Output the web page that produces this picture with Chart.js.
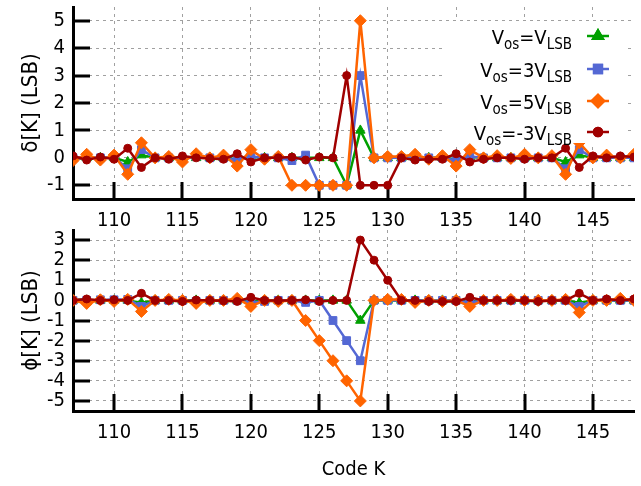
<!DOCTYPE html>
<html><head><meta charset="utf-8">
<script src="https://cdn.jsdelivr.net/npm/chart.js@4"></script>
<style>
html,body{margin:0;padding:0;background:#fff;}
#wrap{position:relative;width:641px;height:486px;overflow:hidden;background:#fff;}
canvas{position:absolute;left:0;}
#c1{top:0;}
#c2{top:222px;}
</style></head><body>
<div id="wrap"><canvas id="c1" width="641" height="232" style="width:641px;height:232px"></canvas><canvas id="c2" width="641" height="264" style="width:641px;height:264px"></canvas></div>
<script>
// ---- data ----
const codes = [107,108,109,110,111,112,113,114,115,116,117,118,119,120,121,122,123,124,125,126,127,128,129,130,131,132,133,134,135,136,137,138,139,140,141,142,143,144,145,146,147,148];
const xTicks = [110,115,120,125,130,135,140,145];
const yTicksTop = [-1,0,1,2,3,4,5];
const yTicksBottom = [-5,-4,-3,-2,-1,0,1,2,3];
const seriesNames = ['V_os=V_LSB','V_os=3V_LSB','V_os=5V_LSB','V_os=-3V_LSB'];

// delta[K] (top panel)
const deltaVlsb  = [0,0,0,0,-0.15,0.1,0,0,0,0,0,0,-0.05,0.03,0,0,0,0,0,0,-1,1,0,0,0,0,0,0,-0.05,0.03,0,0,0,0,0,0,-0.15,0.1,0,0,0,0];
const delta3Vlsb = [0,0.03,0,0.03,-0.4,0.3,0,0,-0.05,0.05,0,0,-0.1,0.05,0,0,-0.1,0.1,-1,-1,-1,3,0,0,0,0,0,0,-0.1,0.05,0,0,0,0,0,0,-0.4,0.3,0,0,0,0];
const delta5Vlsb = [-0.1,0.13,-0.08,0.1,-0.6,0.55,0,0.05,-0.15,0.15,0,0.1,-0.3,0.3,-0.05,0.05,-1,-1,-1,-1,-1,5,0,0.05,0.05,0.13,-0.05,0.08,-0.3,0.3,0,0.08,-0.02,0.13,0,0.08,-0.6,0.55,0,0.1,0,0.13];
const deltaM3Vlsb= [0.07,-0.08,0.03,-0.05,0.35,-0.35,0,-0.05,0.07,0,-0.02,-0.05,0.15,-0.15,0,0,0.03,-0.08,0.03,0,3,-1,-1,-1,0,-0.08,-0.05,-0.05,0.15,-0.15,-0.05,0,0,-0.05,0,0,0.35,-0.35,0.07,0,0.07,0.03];

// phi[K] (bottom panel)
const phiVlsb  = [0,0,0,0,0,-0.12,0,0,0,0,0,0,0,-0.05,0,0,0,0,0,0,0,-1,0,0,0,0,0,0,0,-0.05,0,0,0,0,0,0,0,-0.12,0,0,0,0];
const phi3Vlsb = [0,0,0.03,0.03,0.05,-0.3,0,0,0,-0.05,0,0,0,-0.1,-0.05,0,0,-0.1,0,-1,-2,-3,0,0,0,0,0,0,0,-0.1,0,0,0,0,0,0,0,-0.3,0,0,0,0];
const phi5Vlsb = [0,-0.15,0.03,-0.05,0.05,-0.55,0,0.05,0,-0.15,0,0,0.1,-0.3,0,-0.05,0,-1,-2,-3,-4,-5,0,0.05,0.05,-0.1,0,-0.05,0,-0.3,0,0,0.05,0,0,0,0.05,-0.6,0,0,0.1,0];
const phiM3Vlsb= [0,0.07,0,0.03,0,0.35,0,0,-0.05,0.02,0,-0.02,-0.05,0.15,0,0,0,0.03,-0.05,0,0,3,2,1,0,0,-0.05,-0.05,-0.05,0.15,0,0,0,0,-0.05,0,0,0.35,0,0.07,0,0.07];

// ---- styles ----
const FONT = '"DejaVu Sans Condensed", "Liberation Sans", sans-serif';
const FSIZE = 20;
const COLORS = ['#00a000', '#5468d4', '#ff6400', '#a00000'];
const POINTS = [
  {style:'triangle', r:5.5},
  {style:'rect', r:5.5},
  {style:'rectRot', r:6},
  {style:'circle', r:4}
];
Chart.defaults.font.family = FONT;
Chart.defaults.color = '#000';

function toPts(arr){ return codes.map((c,i)=>({x:c, y:arr[i]})); }
function makeDatasets(list){
  return list.map((arr,i)=>({
    label: seriesNames[i],
    data: toPts(arr),
    borderColor: COLORS[i],
    backgroundColor: COLORS[i],
    pointBackgroundColor: COLORS[i],
    pointBorderColor: COLORS[i],
    pointBorderWidth: 1,
    pointStyle: POINTS[i].style,
    pointRadius: POINTS[i].r,
    borderWidth: 2.5,
    tension: 0,
    order: 4 - i
  }));
}

const inwardTicks = {
  id:'inwardTicks',
  beforeDatasetsDraw(chart){
    const {ctx, chartArea:a} = chart;
    const x = chart.scales.x, y = chart.scales.y;
    ctx.save();
    ctx.strokeStyle='#000'; ctx.lineWidth=3; ctx.setLineDash([]);
    ctx.beginPath();
    xTicks.forEach(v=>{ const px=Math.round(x.getPixelForValue(v)); ctx.moveTo(px,a.bottom); ctx.lineTo(px,a.bottom-17); });
    y.ticks.forEach(t=>{ const py=Math.round(y.getPixelForValue(t.value)); ctx.moveTo(a.left,py); ctx.lineTo(a.left+17,py); });
    ctx.stroke();
    ctx.restore();
  }
};

const legendSegs = [
  [['V',0],['os',1],['=V',0],['LSB',1]],
  [['V',0],['os',1],['=3V',0],['LSB',1]],
  [['V',0],['os',1],['=5V',0],['LSB',1]],
  [['V',0],['os',1],['=-3V',0],['LSB',1]]
];
const customLegend = {
  id:'customLegend',
  afterDatasetsDraw(chart){
    const ctx = chart.ctx;
    ctx.save();
    ctx.fillStyle='#fff';
    ctx.fillRect(442, 21, 182, 122);
    const rows=[36,69,101,132];
    const textRight=572;
    const mainF='20px '+FONT, subF='15px '+FONT;
    rows.forEach((ry,i)=>{
      const segs=legendSegs[i];
      let w=0;
      segs.forEach(([t,s])=>{ ctx.font = s?subF:mainF; w+=ctx.measureText(t).width; });
      let x=textRight-w;
      const base=ry+8;
      ctx.fillStyle='#000'; ctx.textBaseline='alphabetic'; ctx.textAlign='left';
      segs.forEach(([t,s])=>{ ctx.font = s?subF:mainF; ctx.fillText(t,x,s?base+5:base); x+=ctx.measureText(t).width; });
      ctx.strokeStyle=COLORS[i]; ctx.lineWidth=2.5;
      ctx.beginPath(); ctx.moveTo(587,ry); ctx.lineTo(609,ry); ctx.stroke();
      ctx.fillStyle=COLORS[i];
      Chart.helpers.drawPoint(ctx,{pointStyle:POINTS[i].style, radius:POINTS[i].r, borderWidth:1, rotation:0}, 598, ry);
      ctx.fill(); ctx.stroke();
    });
    ctx.restore();
  }
};

function xScale(height, title){
  return {
    type:'linear', min:107, max:148,
    afterBuildTicks(s){ s.ticks = xTicks.map(v=>({value:v})); },
    ticks:{autoSkip:false, maxRotation:0, padding:10, color:'#000', font:{size:FSIZE, family:FONT}},
    grid:{color:'#a0a0a0', lineWidth:1, drawTicks:false},
    border:{display:true, color:'#000', width:3, dash:[3,4]},
    title: title ? {display:true, text:title, color:'#000', font:{size:FSIZE, family:FONT}, padding:{top:0,bottom:4}} : {display:false},
    afterFit(s){ s.height=height; s.paddingLeft=0; s.paddingRight=0; }
  };
}
function yScale(min,max,ticksArr,title){
  return {
    type:'linear', min:min, max:max,
    afterBuildTicks(s){ s.ticks = ticksArr.map(v=>({value:v})); },
    ticks:{autoSkip:false, padding:8, color:'#000', font:{size:FSIZE, family:FONT}},
    grid:{color:'#a0a0a0', lineWidth:1, drawTicks:false},
    border:{display:true, color:'#000', width:3, dash:[3,4]},
    title:{display:true, text:title, color:'#000', font:{size:22, family:FONT}, padding:{top:18,bottom:0}},
    afterFit(s){ s.width=73; s.paddingTop=0; s.paddingBottom=0; }
  };
}
function baseOptions(padTop, xs, ys){
  return {
    responsive:false, animation:false, devicePixelRatio:1,
    layout:{padding:{top:padTop,left:0,right:0,bottom:0}},
    plugins:{legend:{display:false}, tooltip:{enabled:false}},
    scales:{x:xs, y:ys}
  };
}

new Chart(document.getElementById('c1'), {
  type:'line',
  data:{datasets: makeDatasets([deltaVlsb, delta3Vlsb, delta5Vlsb, deltaM3Vlsb])},
  options: baseOptions(4.5, xScale(33, null), yScale(-1.5, 5.5, yTicksTop, 'δ[K] (LSB)')),
  plugins:[inwardTicks, customLegend]
});
new Chart(document.getElementById('c2'), {
  type:'line',
  data:{datasets: makeDatasets([phiVlsb, phi3Vlsb, phi5Vlsb, phiM3Vlsb])},
  options: baseOptions(8, xScale(75, 'Code K'), yScale(-5.5, 3.5, yTicksBottom, 'ϕ[K] (LSB)')),
  plugins:[inwardTicks]
});
</script>
</body></html>
